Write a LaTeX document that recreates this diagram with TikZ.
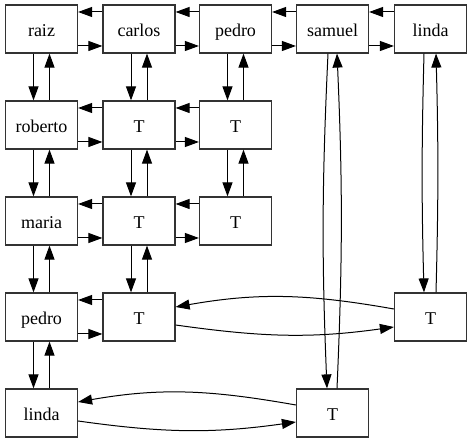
\documentclass[tikz,border=0pt]{standalone}
\usepackage{fontspec}
\setmainfont{Liberation Serif}
\usetikzlibrary{arrows.meta}
\tikzset{
	box/.style={draw=black!80, line width=1.2pt, minimum width=72pt, minimum height=48pt, inner sep=0pt, text height=15pt, text depth=0pt, font=\fontsize{18}{20}\selectfont},
	arr/.style={line width=1pt, -{Triangle[length=14pt,width=10pt]}}
}
\def\hpair(#1)(#2){\draw[arr] ([yshift=17pt]#2.west) -- ([yshift=17pt]#1.east); \draw[arr] ([yshift=-17pt]#1.east) -- ([yshift=-17pt]#2.west);}
\def\vpair(#1)(#2){\draw[arr] ([xshift=-8pt]#1.south) -- ([xshift=-8pt]#2.north); \draw[arr] ([xshift=8pt]#2.north) -- ([xshift=8pt]#1.south);}

\begin{document}
\begin{tikzpicture}[x=1pt, y=1pt]
			%%%%% START %%%%%
			\useasboundingbox (0, 0) rectangle (471, 443);
			
			\node[box] (raiz) at (41.5, 414) {raiz};
			\node[box] (carlos) at (139, 414) {carlos};
			\node[box] (pedro) at (235.5, 414) {pedro};
			\node[box] (samuel) at (332.5, 414) {samuel};
			\node[box] (linda) at (430.5, 414) {linda};
			
			\node[box] (roberto) at (41.5, 318) {roberto};
			\node[box] (t22) at (139, 318) {T};
			\node[box] (t23) at (235.5, 318) {T};
			
			\node[box] (maria) at (41.5, 222) {maria};
			\node[box] (t32) at (139, 222) {T};
			\node[box] (t33) at (235.5, 222) {T};
			
			\node[box] (pedroB) at (41.5, 126) {pedro};
			\node[box] (t42) at (139, 126) {T};
			\node[box] (t45) at (430.5, 126) {T};
			
			\node[box] (lindaB) at (41.5, 30) {linda};
			\node[box] (t54) at (332.5, 30) {T};
			
			% rows
			\hpair(raiz)(carlos)
			\hpair(carlos)(pedro)
			\hpair(pedro)(samuel)
			\hpair(samuel)(linda)
			\hpair(roberto)(t22)
			\hpair(t22)(t23)
			\hpair(maria)(t32)
			\hpair(t32)(t33)
			\hpair(pedroB)(t42)
			
			% columns
			\vpair(raiz)(roberto)
			\vpair(roberto)(maria)
			\vpair(maria)(pedroB)
			\vpair(pedroB)(lindaB)
			\vpair(carlos)(t22)
			\vpair(t22)(t32)
			\vpair(t32)(t42)
			\vpair(pedro)(t23)
			\vpair(t23)(t33)
			
			% long ones
			\draw[arr] ([xshift=-4.5pt]samuel.south) to[bend right=2.5] ([xshift=-5.5pt]t54.north);
			\draw[arr] ([xshift=4.5pt]t54.north) to[bend right=2.5] ([xshift=4.5pt]samuel.south);
			\draw[arr] ([xshift=-6.5pt]linda.south) to[bend right=1.5] ([xshift=-6.5pt]t45.north);
			\draw[arr] ([xshift=5.5pt]t45.north) to[bend right=1.5] ([xshift=5.5pt]linda.south);
			
			\draw[arr] ([yshift=8pt]t45.west) to[out=170, in=10] ([yshift=10pt]t42.east);
			\draw[arr] ([yshift=-8pt]t42.east) to[out=-8, in=188] ([yshift=-10pt]t45.west);
			\draw[arr] ([yshift=8pt]t54.west) to[out=170, in=10] ([yshift=11pt]lindaB.east);
			\draw[arr] ([yshift=-8pt]lindaB.east) to[out=-8, in=188] ([yshift=-9pt]t54.west);
			%%%%% END %%%%%
\end{tikzpicture}
\end{document}
